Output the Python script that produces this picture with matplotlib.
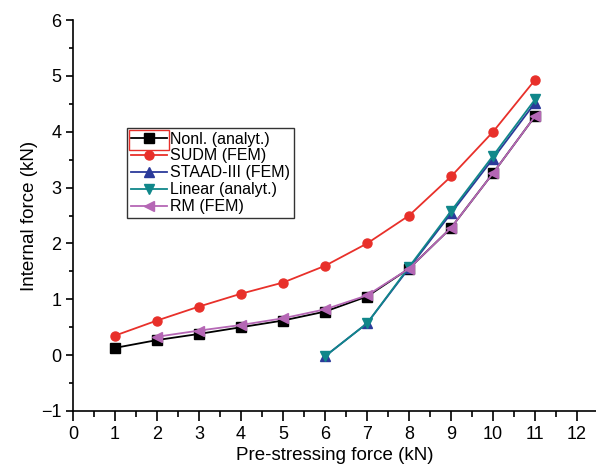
import matplotlib
matplotlib.use('Agg')
import matplotlib.pyplot as plt
import numpy as np
from matplotlib.ticker import MultipleLocator
from matplotlib.patches import Rectangle

plt.rcParams['font.family'] = ['Liberation Sans', 'DejaVu Sans']

# values
x_nonl = [1, 2, 3, 4, 5, 6, 7, 8, 9, 10, 11]
y_nonl = [0.13, 0.27, 0.38, 0.50, 0.62, 0.78, 1.05, 1.55, 2.28, 3.26, 4.28]
x_sudm = [1, 2, 3, 4, 5, 6, 7, 8, 9, 10, 11]
y_sudm = [0.35, 0.62, 0.87, 1.10, 1.30, 1.60, 2.00, 2.50, 3.20, 4.00, 4.93]
x_staad = [6, 7, 8, 9, 10, 11]
y_staad = [-0.02, 0.57, 1.56, 2.54, 3.52, 4.52]
x_lin = [6, 7, 8, 9, 10, 11]
y_lin = [-0.02, 0.57, 1.58, 2.58, 3.57, 4.58]
x_rm = [2, 3, 4, 5, 6, 7, 8, 9, 10, 11]
y_rm = [0.33, 0.44, 0.54, 0.66, 0.82, 1.07, 1.55, 2.28, 3.26, 4.28]

fig = plt.figure(figsize=(5.96, 4.71), dpi=100)
ax = fig.add_axes([0.1225, 0.1274, 0.8775, 0.830])

ax.plot(x_nonl, y_nonl, color='black', marker='s', ms=6.5, lw=1.3, label='Nonl. (analyt.)')
ax.plot(x_sudm, y_sudm, color='#e8302a', marker='o', ms=6.5, lw=1.3, label='SUDM (FEM)')
ax.plot(x_staad, y_staad, color='#2b3a9a', marker='^', ms=7.5, lw=1.3, label='STAAD-III (FEM)')
ax.plot(x_lin, y_lin, color='#10878a', marker='v', ms=7.5, lw=1.3, label='Linear (analyt.)')
ax.plot(x_rm, y_rm, color='#b567b5', marker='<', ms=7.5, lw=1.3, label='RM (FEM)')

ax.set_xlim(0, 12.45)
ax.set_ylim(-1, 6)
ax.xaxis.set_minor_locator(MultipleLocator(0.5))
ax.yaxis.set_minor_locator(MultipleLocator(0.5))
ax.set_xticks(range(0, 13))
ax.set_yticks(range(-1, 7))
ax.set_yticklabels(['\u22121'] + [str(v) for v in range(0, 7)])
ax.spines['top'].set_visible(False)
ax.spines['right'].set_visible(False)
ax.spines['left'].set_linewidth(1.2)
ax.spines['bottom'].set_linewidth(1.2)
ax.tick_params(axis='x', which='major', direction='out', length=7, width=1.2, labelsize=13)
ax.tick_params(axis='x', which='minor', direction='out', length=4, width=1.2)
ax.tick_params(axis='y', which='major', direction='out', length=5, width=1.2, labelsize=13)
ax.tick_params(axis='y', which='minor', direction='out', length=3, width=1.2)

ax.set_xlabel('Pre-stressing force (kN)', fontsize=13.5, labelpad=3)
ax.set_ylabel('Internal force (kN)', fontsize=13.5, labelpad=2)

leg = ax.legend(loc='upper left', bbox_to_anchor=(0.104, 0.725), fontsize=11.5,
                frameon=True, fancybox=False, handlelength=2.2, handletextpad=0.2,
                borderpad=0.25, labelspacing=0.12, borderaxespad=0)
leg.get_frame().set_edgecolor('black')
leg.get_frame().set_linewidth(1.0)

# red highlight box around first legend handle, as in the reference
fig.canvas.draw()
bb = leg.get_window_extent()
inv = fig.transFigure.inverted()
x0, y1 = inv.transform((bb.x0 + 2, bb.y1 - 2))
w = 40 / 596
hgt = 20 / 471
fig.patches.append(Rectangle((x0, y1 - hgt), w, hgt, transform=fig.transFigure,
                             fill=False, edgecolor='#e8302a', lw=1.0))

fig.savefig('out.png', dpi=100)
